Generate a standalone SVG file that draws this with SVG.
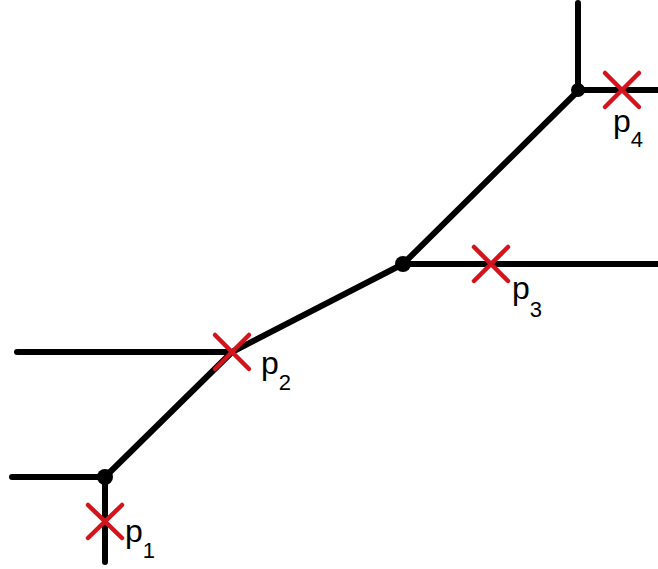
<svg xmlns="http://www.w3.org/2000/svg" width="658" height="569" viewBox="0 0 658 569">
<style>
.e{stroke:#000;stroke-width:6;fill:none;stroke-linecap:round;stroke-linejoin:round}
.x{stroke:#d4141c;stroke-width:4.5;stroke-linecap:round}
.t{font-family:"Liberation Sans",Arial,sans-serif;font-size:32px;fill:#000}
.s{font-size:22px}
</style>
<rect width="658" height="569" fill="#fff"/>
<g id="connectors">
<path class="e" d="M12,477 H105 V562"/>
<path class="e" d="M105,477 L232,352 L403,264 L578,91"/>
<path class="e" d="M17,352 H232"/>
<path class="e" d="M403,264 H658"/>
<path class="e" d="M578,3 V90 H658"/>
</g>
<g id="nodeA"><circle cx="105" cy="477" r="8"/></g>
<g id="nodeB"><circle cx="403" cy="264" r="8"/></g>
<g id="nodeC"><circle cx="578" cy="90" r="7"/></g>
<g id="p1"><path class="x" d="M88,505 L122,538 M122,505 L88,538"/><text class="t" x="125" y="542">p<tspan class="s" dy="16">1</tspan></text></g>
<g id="p2"><path class="x" d="M215,335 L249,369 M249,335 L215,369"/><text class="t" x="261" y="374">p<tspan class="s" dy="16">2</tspan></text></g>
<g id="p3"><path class="x" d="M474,247 L508,281 M508,247 L474,281"/><text class="t" x="512" y="299">p<tspan class="s" dy="18">3</tspan></text></g>
<g id="p4"><path class="x" d="M605,73 L639,107 M639,73 L605,107"/><text class="t" x="613" y="132">p<tspan class="s" dy="15">4</tspan></text></g>
</svg>
